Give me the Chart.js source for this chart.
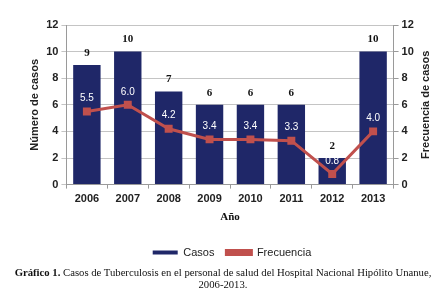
<!DOCTYPE html>
<html>
<head>
<meta charset="utf-8">
<script src="https://cdn.jsdelivr.net/npm/chart.js@4"></script>
<style>
  html, body { margin: 0; padding: 0; background: #fff; }
  #wrap { position: relative; width: 446px; height: 301px; }
  #box { position: absolute; left: 0; top: 0; width: 446px; height: 268px; }
  #caption {
    position: absolute; left: 0; top: 266px; width: 446px;
    font-family: "Liberation Serif", "Times New Roman", serif;
    font-size: 10.7px; line-height: 12px; text-align: center; color: #111;
  }
</style>
</head>
<body>
<div id="wrap">
  <div id="box"><canvas id="myChart"></canvas></div>
  <div id="caption"><b>Gráfico 1.</b> Casos de Tuberculosis en el personal de salud del Hospital Nacional Hipólito Unanue,<br>2006-2013.</div>
</div>
<script>
const years = ['2006', '2007', '2008', '2009', '2010', '2011', '2012', '2013'];
const casos = [9, 10, 7, 6, 6, 6, 2, 10];
const frecuencia = [5.5, 6.0, 4.2, 3.4, 3.4, 3.3, 0.8, 4.0];
const yTicks = [0, 2, 4, 6, 8, 10, 12];

const navy = '#1f2768';
const red = '#c0504d';

// value labels for bars (above) and line points (white text)
const labelPlugin = {
  id: 'valueLabels',
  afterDraw(chart) {
    const ctx = chart.ctx;
    ctx.save();
    ctx.textAlign = 'center';
    ctx.textBaseline = 'middle';

    const barMeta = chart.getDatasetMeta(0);
    ctx.font = 'bold 11px "Liberation Serif", serif';
    ctx.fillStyle = '#111';
    barMeta.data.forEach((bar, i) => {
      ctx.fillText(String(casos[i]), bar.x, bar.y - 12);
    });

    const lineMeta = chart.getDatasetMeta(1);
    ctx.font = '10px "Liberation Sans", Arial, sans-serif';
    ctx.fillStyle = '#fff';
    lineMeta.data.forEach((pt, i) => {
      ctx.fillText(frecuencia[i].toFixed(1), pt.x, pt.y - 13);
    });

    // square marker on the Frecuencia legend line
    const hb = chart.legend.legendHitBoxes[1];
    if (hb) {
      ctx.fillStyle = red;
      ctx.fillRect(hb.left + 12.5 - 3.5, hb.top + hb.height / 2 - 3.5, 7, 7);
    }

    // right axis title, reading bottom to top
    const s = chart.scales.y1;
    ctx.translate(s.right - 12, (chart.chartArea.top + chart.chartArea.bottom) / 2);
    ctx.rotate(-Math.PI / 2);
    ctx.font = 'bold 11px "Liberation Sans", Arial, sans-serif';
    ctx.fillStyle = '#222';
    ctx.fillText('Frecuencia de casos', 0, 0);
    ctx.restore();
  }
};

function initChart(target) {
  const tickFont = { family: '"Liberation Sans", Arial, sans-serif', size: 11, weight: 'bold' };
  return new Chart(target, {
    type: 'bar',
    data: {
      labels: years,
      datasets: [
        {
          label: 'Casos',
          data: casos,
          backgroundColor: navy,
          barPercentage: 0.67,
          categoryPercentage: 1,
          yAxisID: 'y',
          order: 2
        },
        {
          type: 'line',
          label: 'Frecuencia',
          data: frecuencia,
          borderColor: red,
          backgroundColor: red,
          borderWidth: 3,
          pointStyle: 'rect',
          pointRadius: 3.5,
          pointBackgroundColor: red,
          pointBorderColor: red,
          yAxisID: 'y1',
          order: 1
        }
      ]
    },
    options: {
      responsive: true,
      maintainAspectRatio: false,
      animation: false,
      layout: { padding: { top: 25, left: 26, right: 8, bottom: 0 } },
      plugins: {
        tooltip: { enabled: false },
        legend: {
          position: 'bottom',
          labels: {
            boxWidth: 25,
            boxHeight: 4,
            padding: 12,
            color: '#222',
            font: { family: '"Liberation Sans", Arial, sans-serif', size: 11 },
            sort: (a, b) => a.datasetIndex - b.datasetIndex
          }
        }
      },
      scales: {
        x: {
          grid: { drawOnChartArea: false, color: '#9a9a9a', tickLength: 4 },
          border: { color: '#9a9a9a' },
          ticks: { color: '#222', font: tickFont, padding: 4 },
          title: {
            display: true, text: 'Año', color: '#111',
            font: { family: '"Liberation Serif", serif', size: 11, weight: 'bold' },
            padding: { top: 1, bottom: 11 }
          }
        },
        y: {
          position: 'left',
          min: 0, max: 12,
          afterBuildTicks: (axis) => { axis.ticks = yTicks.map(v => ({ value: v })); },
          grid: { color: '#c4c4c4', tickLength: 5 },
          border: { color: '#9a9a9a' },
          ticks: { color: '#222', font: tickFont, padding: 3 },
          title: {
            display: true, text: 'Número de casos', color: '#222',
            font: { family: '"Liberation Sans", Arial, sans-serif', size: 11, weight: 'bold' },
            padding: 2
          }
        },
        y1: {
          position: 'right',
          min: 0, max: 12,
          afterBuildTicks: (axis) => { axis.ticks = yTicks.map(v => ({ value: v })); },
          grid: { drawOnChartArea: false, color: '#9a9a9a', tickLength: 5 },
          border: { color: '#9a9a9a' },
          ticks: { color: '#222', font: tickFont, padding: 3 },
          title: {
            display: true, text: 'Frecuencia de casos', color: 'rgba(0,0,0,0)',
            font: { family: '"Liberation Sans", Arial, sans-serif', size: 11, weight: 'bold' },
            padding: 4
          }
        }
      }
    },
    plugins: [labelPlugin]
  });
}

document.addEventListener('DOMContentLoaded', () => {
  initChart(document.querySelector('#myChart'));
});
</script>
</body>
</html>
